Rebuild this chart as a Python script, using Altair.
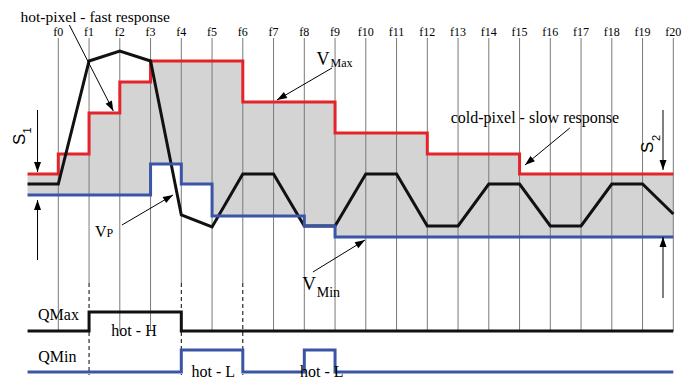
import math
import altair as alt
import pandas as pd

# ---- canvas geometry (chart units: frame index on x, signal level on y)
W, H = 677, 372
PX = 30.75                 # pixels per frame step
X0 = -1.636
X1 = X0 + W / PX
Y0 = 0
Y1 = Y0 + H

# ---- frames
frame_pos = list(range(21))
frame_labels = [f"f{i}" for i in frame_pos]
dashed_frames = [1, 4, 6]

# ---- signals (change points and levels)
vmax_x = [-1, 0, 1, 2, 3, 6, 9, 12, 15, 20]
vmax_v = [206, 226, 267, 298, 319, 278, 247, 226, 206, 206]

vmin_x = [-1, 3, 4, 5, 8, 9, 20]
vmin_v = [185, 216, 196, 164, 154, 143, 143]

vp_x = [-1, 0, 1, 2, 3, 4, 5, 6, 7, 8, 9, 10, 11, 12, 13, 14, 15, 16, 17, 18, 19, 20]
vp_v = [196, 196, 319, 329, 319, 165, 153, 206, 206, 154, 154, 206, 206, 154, 154,
        196, 196, 154, 154, 196, 196, 166]

qmax_x = [-1, 1, 4, 20]
qmax_v = [49, 68, 49, 49]

qmin_x = [-1, 4, 6, 8, 9, 20]
qmin_v = [8, 30, 8, 30, 8, 8]

# ---- annotation arrows (tail -> head)
arrow_x = [0.36, 8.90, 16.634, -0.676, -0.676, 19.665, 19.665, 2.07, 8.28]
arrow_y = [355, 312, 252, 270, 120, 270, 82, 155, 108]
arrow_x2 = [1.789, 7.112, 15.176, -0.676, -0.676, 19.665, 19.665, 3.73, 9.974]
arrow_y2 = [269, 280, 215, 208, 180, 210, 143, 185, 140]

# ---- text labels
label_text = ["hot-pixel - fast response", "cold-pixel - slow response",
              "V", "Max", "V", "Min", "V", "P",
              "QMax", "QMin", "hot - H", "hot - L", "hot - L",
              "S", "1", "S", "2"]
label_x = [1.20, 15.50, 8.397, 8.852, 7.93, 8.403, 1.193, 1.567,
           -0.660, -0.650, 2.462, 5.041, 8.566,
           -1.083, -0.888, 19.34, 19.57]
label_y = [358, 256.7, 315, 313.5, 90, 83.3, 142.7, 142.7,
           60, 18.3, 44, 3, 3,
           235, 246.5, 227, 239]
label_size = [15.5, 16, 18, 12, 19, 14, 16, 12,
              16, 16, 16, 16, 16,
              17, 11, 17, 11]
label_align = ["center", "center", "left", "left", "left", "left", "left", "left",
               "left", "left", "center", "center", "center",
               "left", "left", "left", "left"]
label_angle = [0] * 13 + [270, 270, 270, 270]
label_font = ["Liberation Serif"] * 13 + ["Liberation Sans"] * 4

RED = "#e3242b"
BLUE = "#3a55a5"
BLACK = "#111111"

xs_scale = alt.Scale(domain=[X0, X1], nice=False, zero=False)
ys_scale = alt.Scale(domain=[Y0, Y1], nice=False, zero=False)


def ex(f):
    return alt.X(f, type="quantitative", scale=xs_scale, axis=None)


def ey(f):
    return alt.Y(f, type="quantitative", scale=ys_scale, axis=None)


def step_at(xs, vs, x):
    v = vs[0]
    for xi, vi in zip(xs, vs):
        if xi <= x:
            v = vi
    return v


# gray band between VMax and VMin
bx = sorted(set(vmax_x) | set(vmin_x))
area_df = pd.DataFrame({
    "x": bx,
    "top": [step_at(vmax_x, vmax_v, x) for x in bx],
    "bot": [step_at(vmin_x, vmin_v, x) for x in bx],
})
area = alt.Chart(area_df).mark_area(interpolate="step-after", color="#d4d4d4", opacity=1).encode(
    x=ex("x"), y=ey("top"), y2=alt.Y2("bot"))

# frame grid
grid_df = pd.DataFrame({
    "x": frame_pos,
    "top": [342] * len(frame_pos),
    "bot": [97 if i in dashed_frames else 49 for i in frame_pos],
})
grid = alt.Chart(grid_df).mark_rule(color="#7a7a7a", strokeWidth=1).encode(
    x=ex("x"), y=ey("top"), y2=alt.Y2("bot"))

dash_df = pd.DataFrame({"x": dashed_frames, "top": [97] * 3, "bot": [5] * 3})
dash = alt.Chart(dash_df).mark_rule(color="black", strokeWidth=1, strokeDash=[4, 3]).encode(
    x=ex("x"), y=ey("top"), y2=alt.Y2("bot"))

flab_df = pd.DataFrame({"x": frame_pos, "y": [344] * len(frame_pos), "t": frame_labels})
flab = alt.Chart(flab_df).mark_text(font="Liberation Serif", fontSize=12, baseline="alphabetic",
                                    align="center", color="black").encode(
    x=ex("x"), y=ey("y"), text="t:N")


def step_line(xs, vs, color, interp="step-after"):
    df = pd.DataFrame({"x": xs, "v": vs})
    return alt.Chart(df).mark_line(interpolate=interp, color=color, strokeWidth=3).encode(
        x=ex("x"), y=ey("v"))


red = step_line(vmax_x, vmax_v, RED)
blue = step_line(vmin_x, vmin_v, BLUE)
vp = step_line(vp_x, vp_v, BLACK, "linear")
qmax = step_line(qmax_x, qmax_v, BLACK)
qmin = step_line(qmin_x, qmin_v, BLUE)

# arrows
arr_df = pd.DataFrame({"x": arrow_x, "y": arrow_y, "x2": arrow_x2, "y2": arrow_y2})
arr_df["angle"] = [
    math.degrees(math.atan2((b - a) * PX, (d - c))) % 360
    for a, b, c, d in zip(arrow_x, arrow_x2, arrow_y, arrow_y2)
]
shafts = alt.Chart(arr_df).mark_rule(color="black", strokeWidth=1).encode(
    x=ex("x"), y=ey("y"), x2=alt.X2("x2"), y2=alt.Y2("y2"))
heads = alt.Chart(arr_df).mark_point(shape="M0,0L0.7,2L-0.7,2Z", filled=True, size=100,
                                     color="black", opacity=1, strokeWidth=0).encode(
    x=ex("x2"), y=ey("y2"), angle=alt.Angle("angle:Q", scale=None))

texts = []
for t, x, y, s, al, an, fo in zip(label_text, label_x, label_y, label_size,
                                 label_align, label_angle, label_font):
    df = pd.DataFrame({"x": [x], "y": [y], "t": [t]})
    texts.append(alt.Chart(df).mark_text(font=fo, fontSize=s, align=al, baseline="alphabetic",
                                         angle=an, color="black").encode(
        x=ex("x"), y=ey("y"), text="t:N"))

chart = alt.layer(area, grid, dash, flab, red, vp, blue, qmax, qmin, shafts, heads, *texts).properties(
    width=W, height=H, padding=0, autosize=alt.AutoSizeParams(type="none"),
    background="white",
).configure_view(stroke=None)

chart.save("out.html", embed_options={"renderer": "svg", "actions": False})
